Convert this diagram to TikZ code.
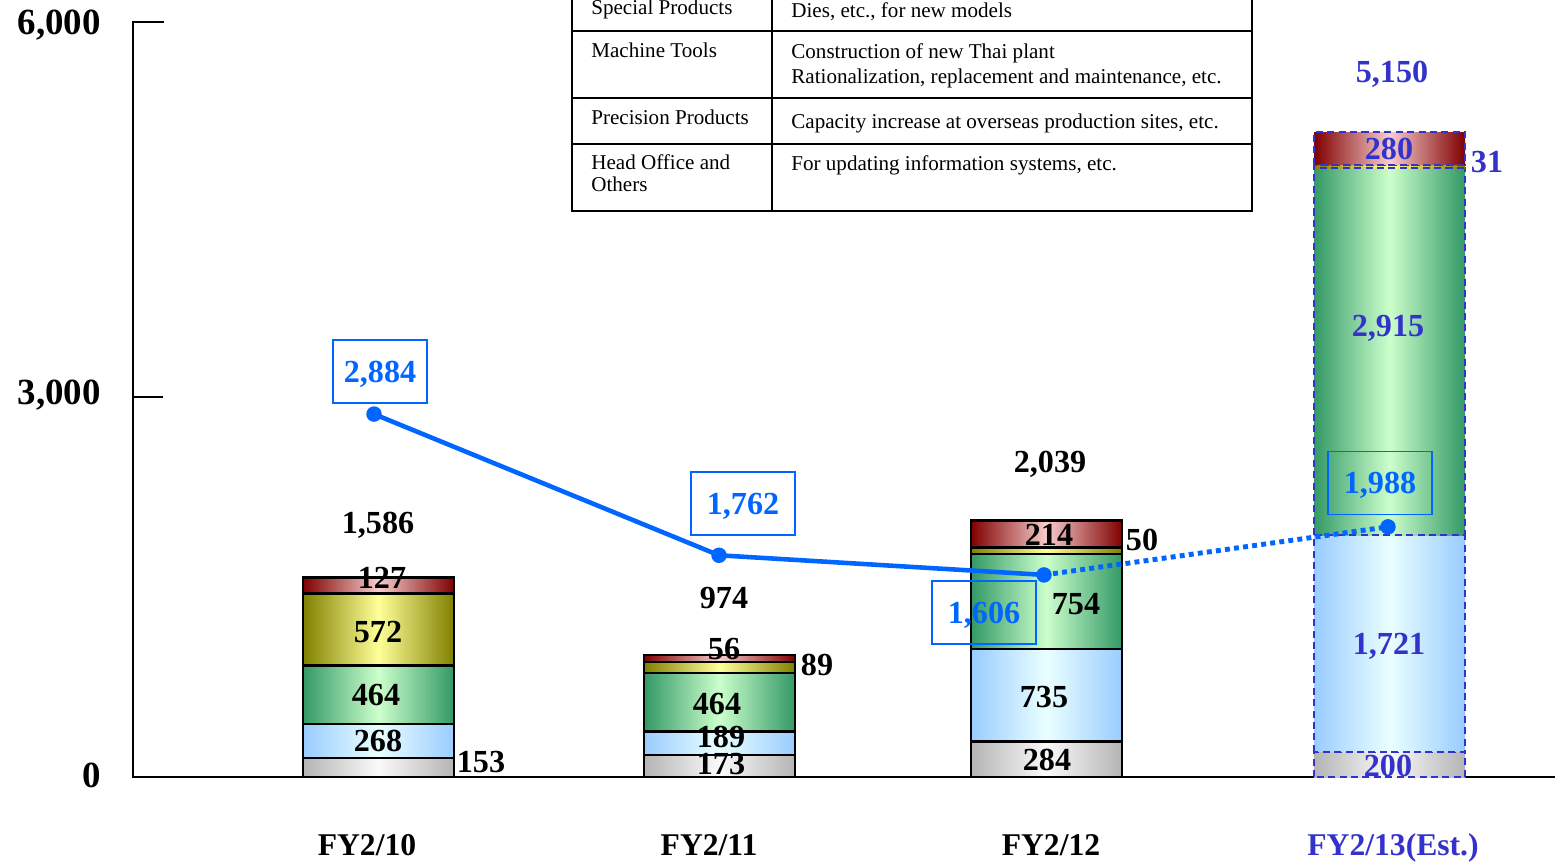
\documentclass[tikz,border=0pt]{standalone}
\usepackage{fontspec}
\setmainfont{Liberation Serif}
\usetikzlibrary{positioning}

\definecolor{estblue}{HTML}{3333CC}
\definecolor{lineblue}{HTML}{0066FF}
\definecolor{edgeG}{HTML}{B4B4B4}
\definecolor{midG}{HTML}{FAFAFA}
\definecolor{edgeB}{HTML}{99CCFF}
\definecolor{midB}{HTML}{EAFFFF}
\definecolor{edgeN}{HTML}{339966}
\definecolor{midN}{HTML}{CCFFCC}
\definecolor{edgeY}{HTML}{808000}
\definecolor{midY}{HTML}{FFFF99}
\definecolor{edgeR}{HTML}{800000}
\definecolor{midR}{HTML}{F7CDCD}

\begin{document}
\begin{tikzpicture}[x=0.02cm, y=-0.02cm,
  catfill/.style={left color=edge#1, right color=edge#1, middle color=mid#1},
  seg/.style={draw=black, line width=1.4pt},
  estseg/.style={draw=estblue, dash pattern=on 4pt off 2.5pt, line width=1.1pt},
  num/.style={font=\fontsize{18.3}{20}\selectfont\bfseries, inner sep=0pt, text depth=0pt},
  estnum/.style={num, text=estblue},
  axisnum/.style={font=\fontsize{21}{24}\selectfont\bfseries, inner sep=0pt, text depth=0pt, anchor=east},
  cat/.style={font=\fontsize{18}{20}\selectfont\bfseries, inner sep=0pt, text depth=0pt},
  cell/.style={font=\fontsize{12}{14.2}\selectfont, inner sep=0pt, anchor=base west, align=left},
  tabline/.style={line width=0.8pt},
  dot/.style={circle, fill=lineblue, inner sep=0pt, minimum size=0.31cm},
  valline/.style={lineblue, line width=2.6pt},
  estline/.style={lineblue, line width=2.8pt, dash pattern=on 2.8pt off 2.4pt},
  valbox/.style={draw=lineblue, line width=0.9pt, text=lineblue, minimum height=1.26cm,
    font=\fontsize{18.3}{20}\selectfont\bfseries, inner sep=0pt, text depth=0pt}
]
\useasboundingbox (0,0) rectangle (1555,863);

% Axis
\draw[line width=1.1pt] (164,22) -- (133,22) -- (133,777) -- (1555,777);
\draw[line width=1.1pt] (133,397) -- (163,397);
\node[axisnum] (y6) at (101,22) {6,000};
\node[axisnum] (y3) at (101,392) {3,000};
\node[axisnum] (y0) at (101,775) {0};

% Table
\draw[tabline] (572,-2) -- (572,211) -- (1252,211) -- (1252,-2);
\draw[tabline] (772,-2) -- (772,211);
\foreach \y in {31,98,144} {
\draw[tabline] (572,\y) -- (1252,\y);
}
\node[cell] (sp) at (591,14) {Special Products};
\node[cell] (spd) at (791,17) {Dies, etc., for new models};
\node[cell] (mt) at (591,57) {Machine Tools};
\node[cell] (mtd) at (791,83) {Construction of new Thai plant\\Rationalization, replacement and maintenance, etc.};
\node[cell] (pp) at (591,124) {Precision Products};
\node[cell] (ppd) at (791,128) {Capacity increase at overseas production sites, etc.};
\node[cell] (ho) at (591,191) {Head Office and\\[-2.2pt]Others};
\node[cell] (hod) at (791,170) {For updating information systems, etc.};

% Bars, in data units
\begin{scope}[shift={(0,777)}, y=0.0025167cm]
\foreach \lo/\hi/\c in {0/153/G, 153/421/B, 421/885/N, 885/1457/Y, 1457/1584/R} {
\shadedraw[seg, catfill=\c] (303,\lo) rectangle (454,\hi);
}
\foreach \lo/\hi/\c in {0/173/G, 173/362/B, 362/826/N, 826/915/Y, 915/971/R} {
\shadedraw[seg, catfill=\c] (644,\lo) rectangle (795,\hi);
}
\foreach \lo/\hi/\c in {0/284/G, 284/1019/B, 1019/1773/N, 1773/1823/Y, 1823/2037/R} {
\shadedraw[seg, catfill=\c] (971,\lo) rectangle (1122,\hi);
}
\foreach \lo/\hi/\c in {0/200/G, 200/1921/B, 1921/4836/N, 4836/4867/Y, 4867/5125/R} {
\shadedraw[estseg, catfill=\c] (1314,\lo) rectangle (1465,\hi);
}

% Line
\node[dot] (p10) at (374,2884) {};
\node[dot] (p11) at (719,1762) {};
\node[dot] (p12) at (1044,1606) {};
\node[dot] (p13) at (1388,1988) {};
\end{scope}
\draw[valline] (p10.center) -- (p11.center) -- (p12.center);
\draw[estline] (p12.center) -- (p13.center);

\node[valbox, minimum width=1.88cm] (v10) at (380,371.5) {2,884};
\node[valbox, minimum width=2.08cm] (v11) at (743,503.5) {1,762};
\node[valbox, minimum width=2.08cm] (v12) at (984,612.5) {1,606};
\node[valbox, minimum width=2.08cm] (v13) at (1380,483) {1,988};

% FY2/10
\node[num] (t10) at (378,523) {1,586};
\node[num] (r10) at (382,578) {127};
\node[num] (y10) at (378,632) {572};
\node[num] (n10) at (376,695) {464};
\node[num] (b10) at (378,741) {268};
\node[num] (g10) at (481,762) {153};

% FY2/11
\node[num] (t11) at (724,598) {974};
\node[num] (r11) at (724,649) {56};
\node[num] (y11) at (817,665) {89};
\node[num] (n11) at (717,704) {464};
\node[num] (b11) at (721,737) {189};
\node[num] (g11) at (721,764) {173};

% FY2/12
\node[num] (t12) at (1050,462) {2,039};
\node[num] (r12) at (1049,535) {214};
\node[num] (y12) at (1142,540) {50};
\node[num] (n12) at (1076,604) {754};
\node[num] (b12) at (1044,697) {735};
\node[num] (g12) at (1047,760) {284};

% FY2/13 (estimate)
\node[estnum] (t13) at (1392,72) {5,150};
\node[estnum] (r13) at (1389,149) {280};
\node[estnum] (y13) at (1487,162) {31};
\node[estnum] (n13) at (1388,326) {2,915};
\node[estnum] (b13) at (1389,644) {1,721};
\node[estnum] (g13) at (1388,766) {200};

% Years
\node[cat] (c10) at (367,845) {FY2/10};
\node[cat] (c11) at (709,845) {FY2/11};
\node[cat] (c12) at (1051,845) {FY2/12};
\node[cat, text=estblue] (c13) at (1393,845) {FY2/13(Est.)};

\end{tikzpicture}
\end{document}
